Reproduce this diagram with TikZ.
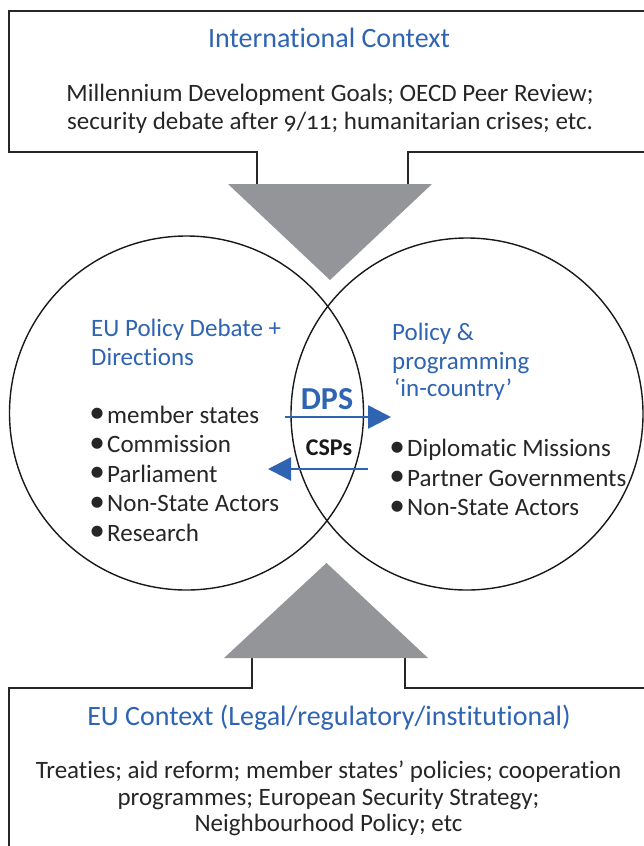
\documentclass[tikz,border=0pt]{standalone}
\usepackage{fontspec}
\setmainfont[Numbers=OldStyle,Ligatures=NoCommon]{Carlito}
\usetikzlibrary{arrows.meta}
\definecolor{eublue}{HTML}{2E64B2}
\definecolor{trigray}{HTML}{939598}
\newcommand{\bul}{\makebox[15pt][l]{\makebox[10pt][c]{\raisebox{0.5pt}{\scalebox{1.25}{\textbullet}}}}}
\begin{document}
\begin{tikzpicture}[x=1pt,y=-1pt,
  frame/.style={line width=2pt,draw=black!85},
  ring/.style={circle,draw=black!90,line width=1.4pt,inner sep=0pt},
  ttl/.style={anchor=base,text=eublue,font=\fontsize{28}{32}\selectfont},
  body/.style={anchor=base,text=black!85,font=\fontsize{25}{29}\selectfont},
  ctl/.style={anchor=base west,inner sep=0pt,text=eublue,font=\fontsize{25}{29}\selectfont},
  itm/.style={anchor=base west,inner sep=0pt,text=black!85,font=\fontsize{25}{29}\selectfont},
  flow/.style={line width=2.6pt,draw=eublue,-{Triangle[length=23pt,width=23pt]}},
  wedge/.style={fill=trigray,draw=none}]
\useasboundingbox (0,0) rectangle (644,846);
\fill[white] (0,0) rectangle (644,846);
% top box
\draw[frame] (660,11) -- (9,11) -- (9,152) -- (257,152) -- (257,186);
\draw[frame] (408,186) -- (408,152) -- (660,152);
\node[ttl] (it) at (329,47) {International Context};
\node[body] (ib1) at (330,101) {Millennium Development Goals; OECD Peer Review;};
\node[body] (ib2) at (330,129) {security debate after 9/11; humanitarian crises; etc.};
% circles
\node[ring,minimum size=354pt] (L) at (186.5,413) {};
\node[ring,minimum size=352pt] (R) at (467,414) {};
% triangles
\fill[wedge] (228,184) -- (432,184) -- (330,280) -- cycle;
\draw[frame] (252,656) -- (252,688) -- (9,688) -- (9,860);
\draw[frame] (405,656) -- (405,688) -- (660,688);
\fill[wedge] (224,658) -- (428,658) -- (326.5,563) -- cycle;
% left circle text
\node[ctl] (lt1) at (91,336) {EU Policy Debate +};
\node[ctl] (lt2) at (91,365.5) {Directions};
\foreach \t [count=\i] in {member states,Commission,Parliament,Non-State Actors,Research}
  \node[itm] (li\i) at (92,423+29.6*\i-29.6) {\bul\t};
% right circle text
\node[ctl] (rt1) at (392,340.5) {Policy \&};
\node[ctl] (rt2) at (392,369) {programming};
\node[ctl] (rt3) at (394,396.5) {‘in-country’};
\foreach \t [count=\i] in {Diplomatic Missions,Partner Governments,Non-State Actors}
  \node[itm] (ri\i) at (392,456.5+29.5*\i-29.5) {\bul\t};
% lens
\node[anchor=base,text=eublue,font=\bfseries\fontsize{32}{34}\selectfont] (dps) at (327,409) {DPS};
\node[anchor=base,text=black!90,font=\bfseries\fontsize{24}{26}\selectfont] (csp) at (329,455) {CSPs};
\coordinate (a1) at (285,417);
\coordinate (a2) at (391,417);
\coordinate (b1) at (368,469);
\coordinate (b2) at (268,469);
\draw[flow] (a1) -- (a2);
\draw[flow] (b1) -- (b2);
% bottom box text
\node[ttl] (et) at (329,725.5) {EU Context (Legal/regulatory/institutional)};
\node[body] (eb1) at (328.5,778) {Treaties; aid reform; member states’ policies; cooperation};
\node[body] (eb2) at (328.5,805) {programmes; European Security Strategy;};
\node[body] (eb3) at (328.5,831.5) {Neighbourhood Policy; etc};
\end{tikzpicture}
\end{document}
